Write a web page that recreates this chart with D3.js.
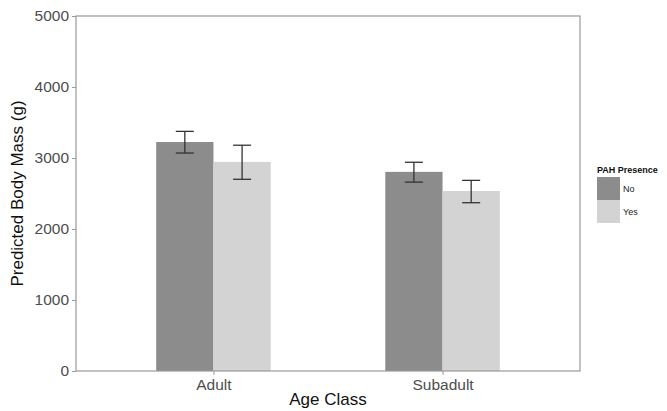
<!DOCTYPE html>
<html>
<head>
<meta charset="utf-8">
<script src="https://cdn.jsdelivr.net/npm/d3@7"></script>
<style>
  body { margin: 0; background: #fff; }
  svg { font-family: Arial, "Liberation Sans", sans-serif; display: block; }
</style>
</head>
<body>
<svg id="chart" width="667" height="411"></svg>
<script>
// data
const ageClasses = ['Adult', 'Subadult'];
const pahGroups = ['No', 'Yes'];
const meanMass = [[3225, 2945], [2805, 2535]];
const lowerMass = [[3070, 2700], [2660, 2370]];
const upperMass = [[3375, 3180], [2940, 2685]];
const yTicks = [0, 1000, 2000, 3000, 4000, 5000];

const width = 667;
const height = 411;
const panel = { left: 76, right: 580, top: 16, bottom: 371 };
const groupColors = ['#8c8c8c', '#d3d3d3'];
const axisColor = '#999';
const textColor = '#4d4d4d';

const svg = d3.select('#chart');

// ggplot style discrete axis: 0.6 unit padding each side
const x = d3.scaleLinear().domain([0.4, 2.6]).range([panel.left, panel.right]);
const y = d3.scaleLinear().domain([0, 5000]).range([panel.bottom, panel.top]);
const dodge = d3.scaleBand().domain(pahGroups).range([-0.25, 0.25]);

const rows = [];
ageClasses.forEach((age, i) => {
  pahGroups.forEach((g, j) => {
    rows.push({ age, i, g, j, mean: meanMass[i][j], lo: lowerMass[i][j], hi: upperMass[i][j] });
  });
});

// bars
svg.append('g')
  .selectAll('rect')
  .data(rows)
  .enter()
  .append('rect')
  .attr('x', (d) => x(d.i + 1 + dodge(d.g)))
  .attr('width', (d) => x(1 + dodge.bandwidth()) - x(1))
  .attr('y', (d) => y(d.mean))
  .attr('height', (d) => y(0) - y(d.mean))
  .attr('fill', (d) => groupColors[d.j]);

// error bars
const capHalf = 9;
const err = svg.append('g')
  .attr('stroke', '#333')
  .attr('stroke-width', 1.3)
  .selectAll('g')
  .data(rows)
  .enter()
  .append('g');
const cx = (d) => x(d.i + 1 + dodge(d.g) + dodge.bandwidth() / 2);
err.append('line')
  .attr('x1', cx).attr('x2', cx)
  .attr('y1', (d) => y(d.lo)).attr('y2', (d) => y(d.hi));
err.append('line')
  .attr('x1', (d) => cx(d) - capHalf).attr('x2', (d) => cx(d) + capHalf)
  .attr('y1', (d) => y(d.hi)).attr('y2', (d) => y(d.hi));
err.append('line')
  .attr('x1', (d) => cx(d) - capHalf).attr('x2', (d) => cx(d) + capHalf)
  .attr('y1', (d) => y(d.lo)).attr('y2', (d) => y(d.lo));

// panel border
svg.append('rect')
  .attr('x', panel.left)
  .attr('y', panel.top)
  .attr('width', panel.right - panel.left)
  .attr('height', panel.bottom - panel.top)
  .attr('fill', 'none')
  .attr('stroke', axisColor)
  .attr('stroke-width', 1.2);

// y axis
const yAxis = svg.append('g')
  .attr('transform', `translate(${panel.left},0)`)
  .call(d3.axisLeft(y).tickValues(yTicks).tickSize(4).tickPadding(3).tickFormat(d3.format('d')));
yAxis.select('.domain').remove();
yAxis.selectAll('line').attr('stroke', axisColor);
yAxis.selectAll('text').attr('fill', textColor).attr('font-size', 15.5).attr('font-family', null);

// x axis
const xAxis = svg.append('g')
  .attr('transform', `translate(0,${panel.bottom})`)
  .call(d3.axisBottom(x).tickValues([1, 2]).tickSize(4).tickPadding(4)
    .tickFormat((d) => ageClasses[d - 1]));
xAxis.select('.domain').remove();
xAxis.selectAll('line').attr('stroke', axisColor);
xAxis.selectAll('text').attr('fill', textColor).attr('font-size', 15.5).attr('font-family', null);

// axis titles
svg.append('text')
  .attr('x', (panel.left + panel.right) / 2)
  .attr('y', 405)
  .attr('text-anchor', 'middle')
  .attr('font-size', 17)
  .attr('fill', '#111')
  .text('Age Class');

svg.append('text')
  .attr('transform', `translate(23,${(panel.top + panel.bottom) / 2}) rotate(-90)`)
  .attr('text-anchor', 'middle')
  .attr('font-size', 17)
  .attr('fill', '#111')
  .text('Predicted Body Mass (g)');

// legend
const legend = svg.append('g').attr('transform', 'translate(597,177)');
legend.append('text')
  .attr('x', 0)
  .attr('y', -4)
  .attr('font-size', 9)
  .attr('font-weight', 'bold')
  .attr('fill', '#111')
  .text('PAH Presence');
const keys = legend.selectAll('g.key')
  .data(pahGroups)
  .enter()
  .append('g')
  .attr('class', 'key')
  .attr('transform', (d, j) => `translate(0,${j * 23})`);
keys.append('rect')
  .attr('width', 23)
  .attr('height', 23)
  .attr('fill', (d, j) => groupColors[j]);
keys.append('text')
  .attr('x', 26)
  .attr('y', 15)
  .attr('font-size', 9)
  .attr('fill', '#222')
  .text((d) => d);
</script>
</body>
</html>
